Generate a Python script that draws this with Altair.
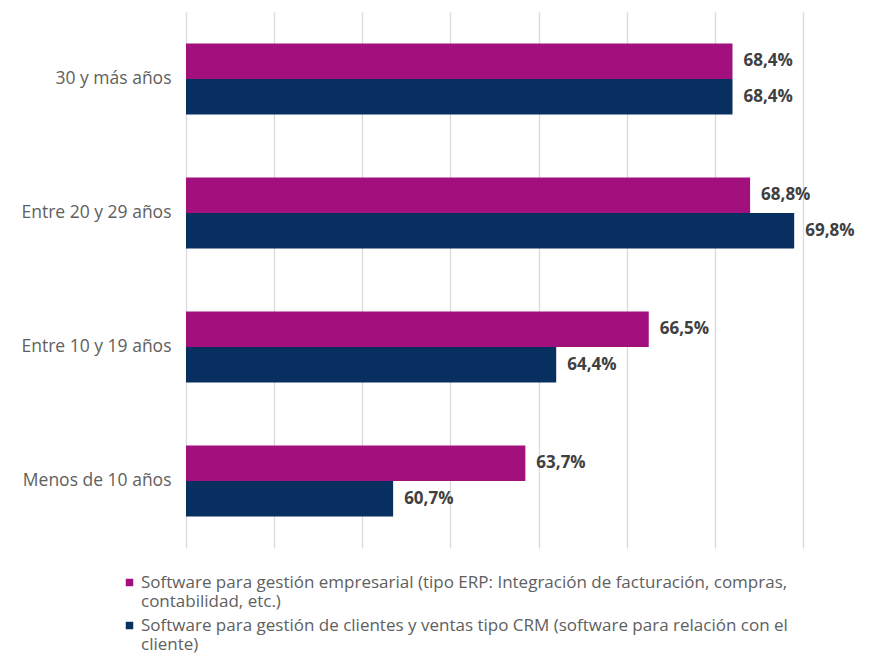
import altair as alt
import pandas as pd

categories = ["30 y más años", "Entre 20 y 29 años", "Entre 10 y 19 años", "Menos de 10 años"]
series = [
    "Software para gestión empresarial (tipo ERP: Integración  de facturación, compras,|contabilidad, etc.)",
    "Software para gestión de clientes y ventas tipo CRM (software para relación con el|cliente)",
]
erp_values = [68.4, 68.8, 66.5, 63.7]
crm_values = [68.4, 69.8, 64.4, 60.7]
colors = ["#A2107E", "#072F5F"]
axis_min = 56
axis_max = 70
grid_values = [56, 58, 60, 62, 64, 66, 68, 70]

rows = []
for c, e, r in zip(categories, erp_values, crm_values):
    rows.append({"cat": c, "serie": series[0], "v": e, "lab": f"{e:.1f}".replace(".", ",") + "%"})
    rows.append({"cat": c, "serie": series[1], "v": r, "lab": f"{r:.1f}".replace(".", ",") + "%"})
df = pd.DataFrame(rows)

FONT = "Open Sans"

x = alt.X("v:Q", scale=alt.Scale(domain=[axis_min, axis_max], nice=False, zero=False),
          axis=alt.Axis(title=None, labels=False, ticks=False, domain=False,
                        grid=True, gridColor="#D9D9D9", gridWidth=1.3,
                        values=grid_values))
y = alt.Y("cat:N", sort=categories,
          scale=alt.Scale(paddingInner=0.47, paddingOuter=0.235),
          axis=alt.Axis(title=None, ticks=False, domain=False, labelPadding=15,
                        labelFontSize=17.5, labelColor="#606060", labelFont=FONT,
                        minExtent=178, maxExtent=178, labelLimit=178))
yoff = alt.YOffset("serie:N", sort=series)

bars = alt.Chart(df).mark_bar().encode(
    x=x, x2=alt.datum(axis_min), y=y, yOffset=yoff,
    color=alt.Color("serie:N", sort=series,
                    scale=alt.Scale(domain=series, range=colors),
                    legend=alt.Legend(title=None, orient="none", legendX=-65, legendY=562,
                                      direction="vertical", symbolType="square", symbolSize=56,
                                      labelFont=FONT, labelFontSize=17, labelColor="#606060",
                                      labelLimit=800, labelExpr="split(datum.label, '|')",
                                      labelBaseline="middle", labelOffset=3, rowPadding=6,
                                      symbolStrokeWidth=0)),
)

labels = alt.Chart(df).mark_text(align="left", baseline="middle", dx=11, fontSize=17,
                                 fontWeight="bold", color="#404040", font=FONT).encode(
    x="v:Q", y=alt.Y("cat:N", sort=categories), yOffset=yoff, text="lab:N")

chart = alt.layer(bars, labels).properties(
    width=617, height=536, padding={"left": 0, "top": 4, "right": 0, "bottom": 0}
).configure_view(stroke=None)

chart.save("out.html", embed_options={"renderer": "svg", "actions": False})
